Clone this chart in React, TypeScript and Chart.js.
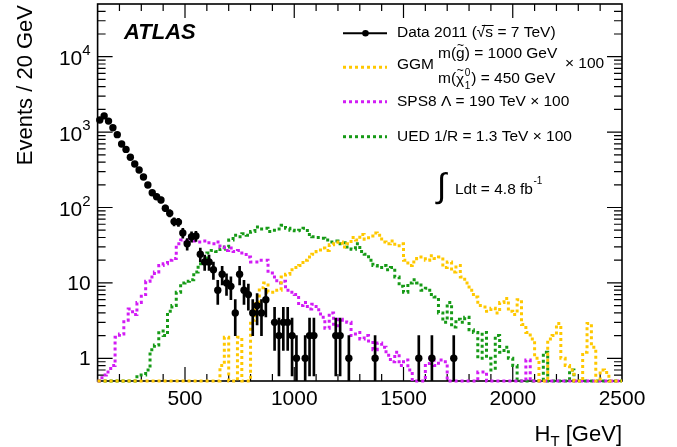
import React, { useEffect, useRef } from "react";
import { Chart, registerables } from "chart.js";

Chart.register(...registerables);

// ---- axis ranges / binning ----
const HT_MIN = 100;
const HT_MAX = 2500;
const BIN_WIDTH = 20;
const Y_MIN = 0.5;
const Y_MAX = 5e4;
const X_MAJOR_TICKS = [500, 1000, 1500, 2000, 2500];
const Y_MAJOR_TICKS = [1, 10, 100, 1000, 10000];
const Y_TICK_LABELS: [string, string][] = [["1", ""], ["10", ""], ["10", "2"], ["10", "3"], ["10", "4"]];

// ---- Data 2011 : events per 20 GeV bin (bins start at 100 GeV) ----
const DATA_COUNTS = [
  1445, 1640, 1400, 1140, 925, 695, 590, 463, 378, 314,
  254, 199, 157, 139, 126, 98, 84, 65, 64, 46,
  33, 41, 42, 24, 19, 19, 15, 8, 13, 10,
  9, 4, 13, 8, 7, 4, 5, 4, 6, 0,
  3, 2, 3, 3, 2, 1, 0, 1, 2, 2,
  0, 0, 0, 0, 2, 2, 0, 1, 0, 0,
  0, 0, 0, 1, 0, 0, 0, 0, 0, 0,
  0, 0, 0, 1, 0, 0, 1, 0, 0, 0,
  0, 1, 0, 0, 0, 0, 0, 0, 0, 0,
  0, 0, 0, 0, 0, 0, 0, 0, 0, 0,
  0, 0, 0, 0, 0, 0, 0, 0, 0, 0,
  0, 0, 0, 0, 0, 0, 0, 0, 0, 0,
];

// ---- GGM m(gluino)=1000, m(chi)=450, x100 ----
const GGM_X100 = [
  0, 0, 0, 0, 0, 0, 0, 0, 0, 0,
  0, 0, 0, 0, 0, 0, 0, 0, 0, 0,
  0, 0, 0, 0, 0, 0, 0, 0, 0, 0.8,
  1.9, 0, 0, 1.9, 0, 0, 3.2, 5.6, 8.6, 10,
  7.5, 7.5, 8, 12, 13, 15, 16, 17, 20, 22,
  24, 26, 29, 27, 32, 33, 35, 30, 33, 40,
  37, 44, 38, 42, 46, 43, 35, 33, 36, 31,
  33, 20, 17, 19, 21, 22, 20, 23, 21, 22,
  16, 19, 14, 17, 12, 10, 8, 6.5, 5, 4.8,
  4.2, 4.6, 4.0, 5.5, 6.2, 4.2, 3.8, 6.0, 2.8, 2.2,
  1.8, 1.0, 0, 0, 1.8, 2.0, 2.9, 1.0, 0.8, 0.7,
  0, 0, 1.2, 2.9, 1.4, 0, 0.7, 0.65, 0, 0,
];

// ---- SPS8 Lambda = 190 TeV, x100 ----
const SPS8_X100 = [
  0, 0, 0.6, 0.66, 0.8, 1.9, 2.1, 3.2, 4.5, 3.8,
  5.5, 7, 10.5, 12, 14, 17, 18, 20, 21, 33,
  37, 36, 38, 36, 35, 36, 34, 33, 35, 30,
  27, 29, 26, 27, 25, 22, 19, 19, 20, 20,
  13.5, 12, 10, 10.5, 8, 7.5, 7, 5, 5.5, 4.5,
  5.2, 4.4, 3.5, 2.5, 4, 2.7, 3.3, 3.2, 3.0, 2.0,
  2.2, 1.8, 2.0, 1.7, 1.3, 1.6, 1.4, 1.1, 0.9, 1.2,
  0.8, 0.95, 0.7, 0, 0, 0, 0.85, 1.0, 0.8, 0.95,
  0.9, 0, 0, 0, 0, 0, 0, 0, 0.66, 0.66,
  0, 0, 0, 0, 0, 0, 0, 0, 0, 0.95,
  0, 0, 0, 0, 0, 0, 0, 0, 0, 0,
  0, 0, 0, 0, 0, 0, 0, 0, 0, 0,
];

// ---- UED 1/R = 1.3 TeV, x100 ----
const UED_X100 = [
  0, 0, 0, 0, 0, 0, 0, 0, 0, 0,
  0.6, 0.6, 0.7, 1.3, 1.5, 2.3, 2.0, 4.2, 5, 7.5,
  10, 10.5, 11, 14, 18, 19, 25, 27, 26, 28,
  30, 37, 43, 41, 45, 43, 48, 55, 52, 53,
  48, 50, 52, 58, 53, 50, 49, 50, 53, 44,
  41, 40, 39, 37, 35, 36, 33, 34, 30, 28,
  33, 26, 24, 20, 17, 16, 17, 15, 16, 12,
  9, 7.5, 10, 11, 10, 8, 8.5, 7, 6.5, 4,
  3, 5.5, 2.6, 3.3, 3.0, 3.5, 2.4, 2.2, 1.0, 2.2,
  1.0, 0.7, 2.0, 1.2, 1.4, 1.0, 0.8, 0, 0, 0,
  0, 0, 0, 1.2, 0, 0, 0, 0, 0, 0.7,
  0, 0, 0, 0, 0, 0, 0, 0, 0, 0,
];

const COLOR_GGM = "#ffc800";
const COLOR_SPS8 = "#d21cf5";
const COLOR_UED = "#169a16";
const FONT = '"Liberation Sans", Arial, Helvetica, sans-serif';

const binLow = DATA_COUNTS.map((_, i) => HT_MIN + i * BIN_WIDTH);

function histPoints(vals: number[]) {
  const pts = vals.map((v, i) => ({ x: binLow[i], y: Math.max(v, Y_MIN) }));
  pts.push({ x: HT_MAX, y: Math.max(vals[vals.length - 1], Y_MIN) });
  return pts;
}

const dataPoints = DATA_COUNTS.map((n, i) => ({ n, x: binLow[i] + BIN_WIDTH / 2 }))
  .filter((d) => d.n > 0)
  .map((d) => ({ x: d.x, y: d.n }));

// sqrt(N) error bars; a lower edge of 0 is drawn at the axis floor (log scale can't hold 0)
const errorBars = DATA_COUNTS.map((n, i) => ({ n, x: binLow[i] + BIN_WIDTH / 2 }))
  .filter((d) => d.n > 0)
  .map((d) => ({ x: d.x, y: [Math.max(d.n - Math.sqrt(d.n), 1e-3), d.n + Math.sqrt(d.n)] }));

function fnt(size: number, style = "") {
  return `${style} ${size}px ${FONT}`.trim();
}

const decorPlugin = {
  id: "atlasDecor",
  beforeDatasetsDraw(chart: any) {
    const ctx: CanvasRenderingContext2D = chart.ctx;
    const { left, right, top, bottom } = chart.chartArea;
    const xs = chart.scales.x;
    const ys = chart.scales.y;
    ctx.save();
    ctx.strokeStyle = "#000";
    ctx.lineWidth = 1.2;
    for (let v = HT_MIN + 100; v < HT_MAX; v += 100) {
      const px = xs.getPixelForValue(v);
      const len = X_MAJOR_TICKS.includes(v) ? 14 : 7;
      ctx.beginPath();
      ctx.moveTo(px, bottom);
      ctx.lineTo(px, bottom - len);
      ctx.moveTo(px, top);
      ctx.lineTo(px, top + len);
      ctx.stroke();
    }
    for (let e = -1; e <= 4; e++) {
      for (let k = 1; k <= 9; k++) {
        const v = k * Math.pow(10, e);
        if (v <= Y_MIN || v >= Y_MAX) continue;
        const py = ys.getPixelForValue(v);
        const len = k === 1 ? 15 : 8;
        ctx.beginPath();
        ctx.moveTo(left, py);
        ctx.lineTo(left + len, py);
        ctx.moveTo(right, py);
        ctx.lineTo(right - len, py);
        ctx.stroke();
      }
    }
    ctx.lineWidth = 1.6;
    ctx.strokeRect(left, top, right - left, bottom - top);
    ctx.restore();
  },
  afterDraw(chart: any) {
    const ctx: CanvasRenderingContext2D = chart.ctx;
    const { left, right } = chart.chartArea;
    const ys = chart.scales.y;
    ctx.save();
    ctx.strokeStyle = "#000";
    ctx.fillStyle = "#000";

    // y tick labels
    ctx.textBaseline = "middle";
    Y_MAJOR_TICKS.forEach((v, i) => {
      const [base, sup] = Y_TICK_LABELS[i];
      const py = ys.getPixelForValue(v);
      const xr = left - 7;
      ctx.font = fnt(15);
      const supW = sup ? ctx.measureText(sup).width : 0;
      ctx.font = fnt(21);
      ctx.textAlign = "right";
      ctx.fillText(base, xr - supW, py + (sup ? 3 : 1));
      if (sup) {
        ctx.font = fnt(15);
        ctx.textAlign = "left";
        ctx.fillText(sup, xr - supW, py - 6);
      }
    });

    // axis titles
    ctx.save();
    ctx.translate(31.5, 5);
    ctx.rotate(-Math.PI / 2);
    ctx.font = fnt(22);
    ctx.textAlign = "right";
    ctx.textBaseline = "alphabetic";
    ctx.fillText("Events / 20 GeV", 0, 0);
    ctx.restore();

    {
      ctx.textAlign = "left";
      ctx.textBaseline = "alphabetic";
      ctx.font = fnt(22);
      const wH = ctx.measureText("H").width;
      const wR = ctx.measureText(" [GeV]").width;
      ctx.font = fnt(15);
      const wT = ctx.measureText("T").width;
      const x0 = right - (wH + wT + wR);
      const yb = 441;
      ctx.font = fnt(22);
      ctx.fillText("H", x0, yb);
      ctx.font = fnt(15);
      ctx.fillText("T", x0 + wH, yb + 5);
      ctx.font = fnt(22);
      ctx.fillText(" [GeV]", x0 + wH + wT, yb);
    }

    // ATLAS label
    ctx.font = fnt(22, "italic bold");
    ctx.textAlign = "left";
    ctx.textBaseline = "middle";
    ctx.fillText("ATLAS", 124, 33);

    // legend
    const LX0 = 343, LX1 = 387, TX = 397;
    const fs = 15.5;
    ctx.lineWidth = 2;
    ctx.setLineDash([]);
    ctx.beginPath();
    ctx.moveTo(LX0, 33.3);
    ctx.lineTo(LX1, 33.3);
    ctx.stroke();
    ctx.beginPath();
    ctx.arc(365.5, 33.3, 3.3, 0, Math.PI * 2);
    ctx.fill();
    ctx.textBaseline = "middle";
    let x = TX;
    const put = (s: string, y: number, size = fs) => {
      ctx.font = fnt(size);
      ctx.fillText(s, x, y);
      x += ctx.measureText(s).width;
    };
    put("Data 2011 (", 33);
    const sqrtX = x;
    put("\u221A", 33);
    put("s", 33);
    ctx.lineWidth = 1;
    ctx.beginPath();
    ctx.moveTo(sqrtX + 5, 25.5);
    ctx.lineTo(x + 0.5, 25.5);
    ctx.stroke();
    put(" = 7 TeV)", 33);

    const dotted = (y: number, color: string) => {
      ctx.save();
      ctx.strokeStyle = color;
      ctx.lineWidth = 3;
      ctx.setLineDash([3, 3]);
      ctx.beginPath();
      ctx.moveTo(LX0, y);
      ctx.lineTo(LX1, y);
      ctx.stroke();
      ctx.restore();
    };
    // GGM
    dotted(67.3, COLOR_GGM);
    x = TX;
    put("GGM", 64.5);
    x = 438;
    put("m(", 53.5);
    const gX = x;
    put("g", 53.5);
    const gW = x - gX;
    ctx.font = fnt(12);
    ctx.textAlign = "center";
    ctx.fillText("~", gX + gW / 2, 46);
    ctx.textAlign = "left";
    put(") = 1000 GeV", 53.5);
    x = 438;
    put("m(", 78.5);
    const cX = x;
    put("\u03C7", 79.5);
    const cW = x - cX;
    ctx.font = fnt(12);
    ctx.textAlign = "center";
    ctx.fillText("~", cX + cW / 2, 70.5);
    ctx.textAlign = "left";
    ctx.font = fnt(10);
    ctx.fillText("0", x + 0.5, 73);
    ctx.fillText("1", x + 0.5, 86);
    x += ctx.measureText("0").width + 1.5;
    put(") = 450 GeV", 78.5);
    x = 565;
    put("\u00D7 100", 63.5);

    // SPS8
    dotted(101.7, COLOR_SPS8);
    x = TX;
    put("SPS8 \u039B = 190 TeV \u00D7 100", 101.7);
    // UED
    dotted(136.7, COLOR_UED);
    x = TX;
    put("UED 1/R = 1.3 TeV \u00D7 100", 136.7);

    // luminosity
    ctx.font = fnt(34);
    ctx.textBaseline = "middle";
    ctx.fillText("\u222B", 437, 188);
    x = 455;
    put("Ldt = 4.8 fb", 190);
    ctx.font = fnt(10);
    ctx.fillText("-1", x + 0.5, 181);

    ctx.restore();
  },
};

export default function App() {
  const ref = useRef<HTMLCanvasElement | null>(null);
  useEffect(() => {
    if (!ref.current) return;
    const histDs = (label: string, vals: number[], color: string, order: number) => ({
      type: "line" as const,
      label,
      data: histPoints(vals),
      borderColor: color,
      backgroundColor: color,
      borderWidth: 3,
      borderDash: [3, 3],
      borderCapStyle: "butt" as const,
      stepped: "after" as const,
      pointRadius: 0,
      fill: false,
      tension: 0,
      clip: 3,
      order,
    });
    const chart = new Chart(ref.current, {
      type: "scatter",
      data: {
        datasets: [
          {
            type: "scatter",
            label: "Data 2011",
            data: dataPoints,
            pointRadius: 3.7,
            pointBackgroundColor: "#000",
            pointBorderColor: "#000",
            pointBorderWidth: 0,
            showLine: false,
            clip: false,
            order: 0,
          } as any,
          {
            type: "bar",
            label: "errors",
            data: errorBars as any,
            backgroundColor: "#000",
            borderWidth: 0,
            barThickness: 2,
            order: 1,
          } as any,
          histDs("GGM", GGM_X100, COLOR_GGM, 2),
          histDs("SPS8", SPS8_X100, COLOR_SPS8, 3),
          histDs("UED", UED_X100, COLOR_UED, 4),
        ],
      },
      options: {
        responsive: false,
        animation: false,
        layout: { padding: { top: 4, right: 55, left: 0, bottom: 0 } },
        plugins: { legend: { display: false }, tooltip: { enabled: false } },
        scales: {
          x: {
            type: "linear",
            min: HT_MIN,
            max: HT_MAX,
            offset: false,
            grid: { display: false, drawTicks: false, offset: false },
            border: { display: false },
            afterBuildTicks: (s: any) => {
              s.ticks = X_MAJOR_TICKS.map((v) => ({ value: v }));
            },
            afterFit: (s: any) => {
              s.height = 66;
            },
            ticks: {
              autoSkip: false,
              maxRotation: 0,
              padding: 6,
              color: "#000",
              font: { family: '"Liberation Sans", Arial, sans-serif', size: 21 },
              callback: (v: any) => String(v),
            },
          },
          y: {
            type: "logarithmic",
            min: Y_MIN,
            max: Y_MAX,
            grid: { display: false, drawTicks: false },
            border: { display: false },
            afterBuildTicks: (s: any) => {
              s.ticks = Y_MAJOR_TICKS.map((v) => ({ value: v }));
            },
            afterFit: (s: any) => {
              s.width = 97.6;
            },
            ticks: { display: false },
          },
        },
      },
      plugins: [decorPlugin],
    } as any);
    return () => chart.destroy();
  }, []);
  return (
    <div style={{ position: "fixed", left: 0, top: 0, width: 677, height: 447, background: "#fff" }}>
      <canvas ref={ref} width={677} height={447} style={{ display: "block" }} />
    </div>
  );
}
